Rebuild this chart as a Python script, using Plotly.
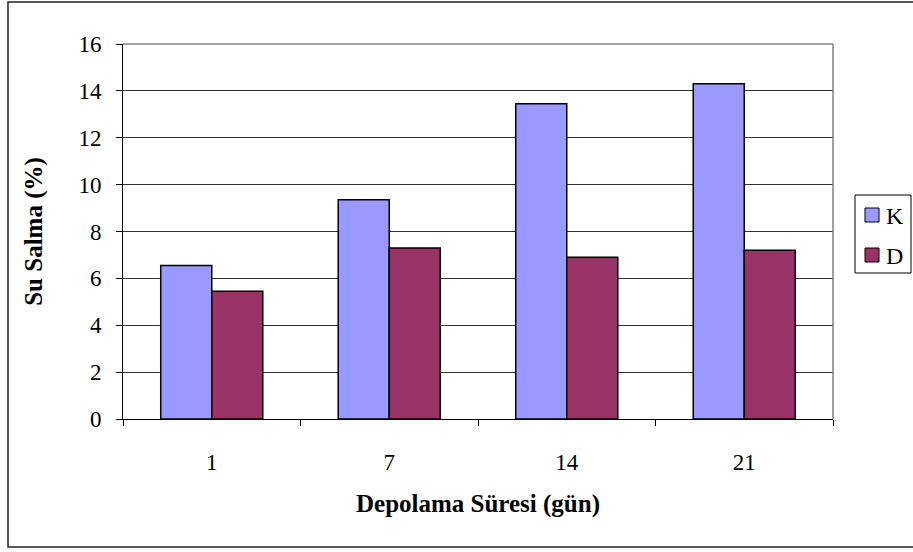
import plotly.graph_objects as go

# Storage time (days) and water absorption (%) per sample group
categories = ["1", "7", "14", "21"]
k_values = [6.55, 9.35, 13.45, 14.3]
d_values = [5.45, 7.3, 6.9, 7.2]
y_ticks = [0, 2, 4, 6, 8, 10, 12, 14, 16]

SERIF = "Liberation Serif, Times New Roman, serif"
series = [("K", k_values, "#9999FF"), ("D", d_values, "#993366")]

# plot area in pixels, used to place the boxed legend in paper units
L, T, R, B = 123, 44, 833, 419
W, H = R - L, B - T


def px_x(p):
    return (p - L) / W


def px_y(p):
    return (B - p) / H


fig = go.Figure()
for name, vals, color in series:
    fig.add_trace(go.Bar(
        x=categories, y=vals, name=name, showlegend=False,
        marker=dict(color=color, line=dict(color="black", width=1.5)),
    ))

shapes = [
    # plot area frame on the top and right sides
    dict(type="line", xref="paper", yref="paper", x0=0, x1=1, y0=1, y1=1,
         line=dict(color="#808080", width=1.5)),
    dict(type="line", xref="paper", yref="paper", x0=1, x1=1, y0=0, y1=1,
         line=dict(color="#808080", width=1.5)),
    # outer chart border
    dict(type="rect", xref="paper", yref="paper",
         x0=px_x(8), x1=px_x(915), y0=px_y(547), y1=px_y(2),
         line=dict(color="#222222", width=1.5)),
    # legend box
    dict(type="rect", xref="paper", yref="paper",
         x0=px_x(855), x1=px_x(911), y0=px_y(273), y1=px_y(195),
         line=dict(color="black", width=1), fillcolor="white"),
]
annotations = []
for i, (name, vals, color) in enumerate(series):
    cy = 215 + 40 * i
    shapes.append(dict(
        type="rect", xref="paper", yref="paper",
        x0=px_x(865), x1=px_x(879), y0=px_y(cy + 7), y1=px_y(cy - 7),
        line=dict(color="black", width=1), fillcolor=color,
    ))
    annotations.append(dict(
        x=px_x(884), y=px_y(cy + 1), xref="paper", yref="paper",
        text=name, showarrow=False, xanchor="left", yanchor="middle",
        font=dict(family=SERIF, size=24, color="black"),
    ))

fig.update_layout(
    width=913, height=552,
    margin=dict(l=L, r=913 - R, t=T, b=552 - B, autoexpand=False),
    paper_bgcolor="white", plot_bgcolor="white",
    barmode="group", bargap=0.425, bargroupgap=0,
    font=dict(family=SERIF, size=23, color="black"),
    showlegend=False,
    xaxis=dict(
        type="category",
        showline=True, linecolor="black", linewidth=1,
        ticks="outside", ticklen=6, tickcolor="black", tickwidth=1,
        tickson="boundaries", showgrid=False,
        ticklabelstandoff=22,
        title=dict(text="<b>Depolama Süresi (gün)</b>", font=dict(size=25), standoff=20),
    ),
    yaxis=dict(
        range=[0, 16], tickvals=y_ticks,
        showline=True, linecolor="black", linewidth=1,
        ticks="outside", ticklen=6, tickcolor="black", tickwidth=1,
        showgrid=True, gridcolor="#333333", gridwidth=1,
        zeroline=False,
        ticklabelstandoff=10,
        title=dict(text="<b>Su Salma (%)</b>", font=dict(size=25), standoff=28),
    ),
    shapes=shapes,
    annotations=annotations,
)

fig.write_html("out.html")
